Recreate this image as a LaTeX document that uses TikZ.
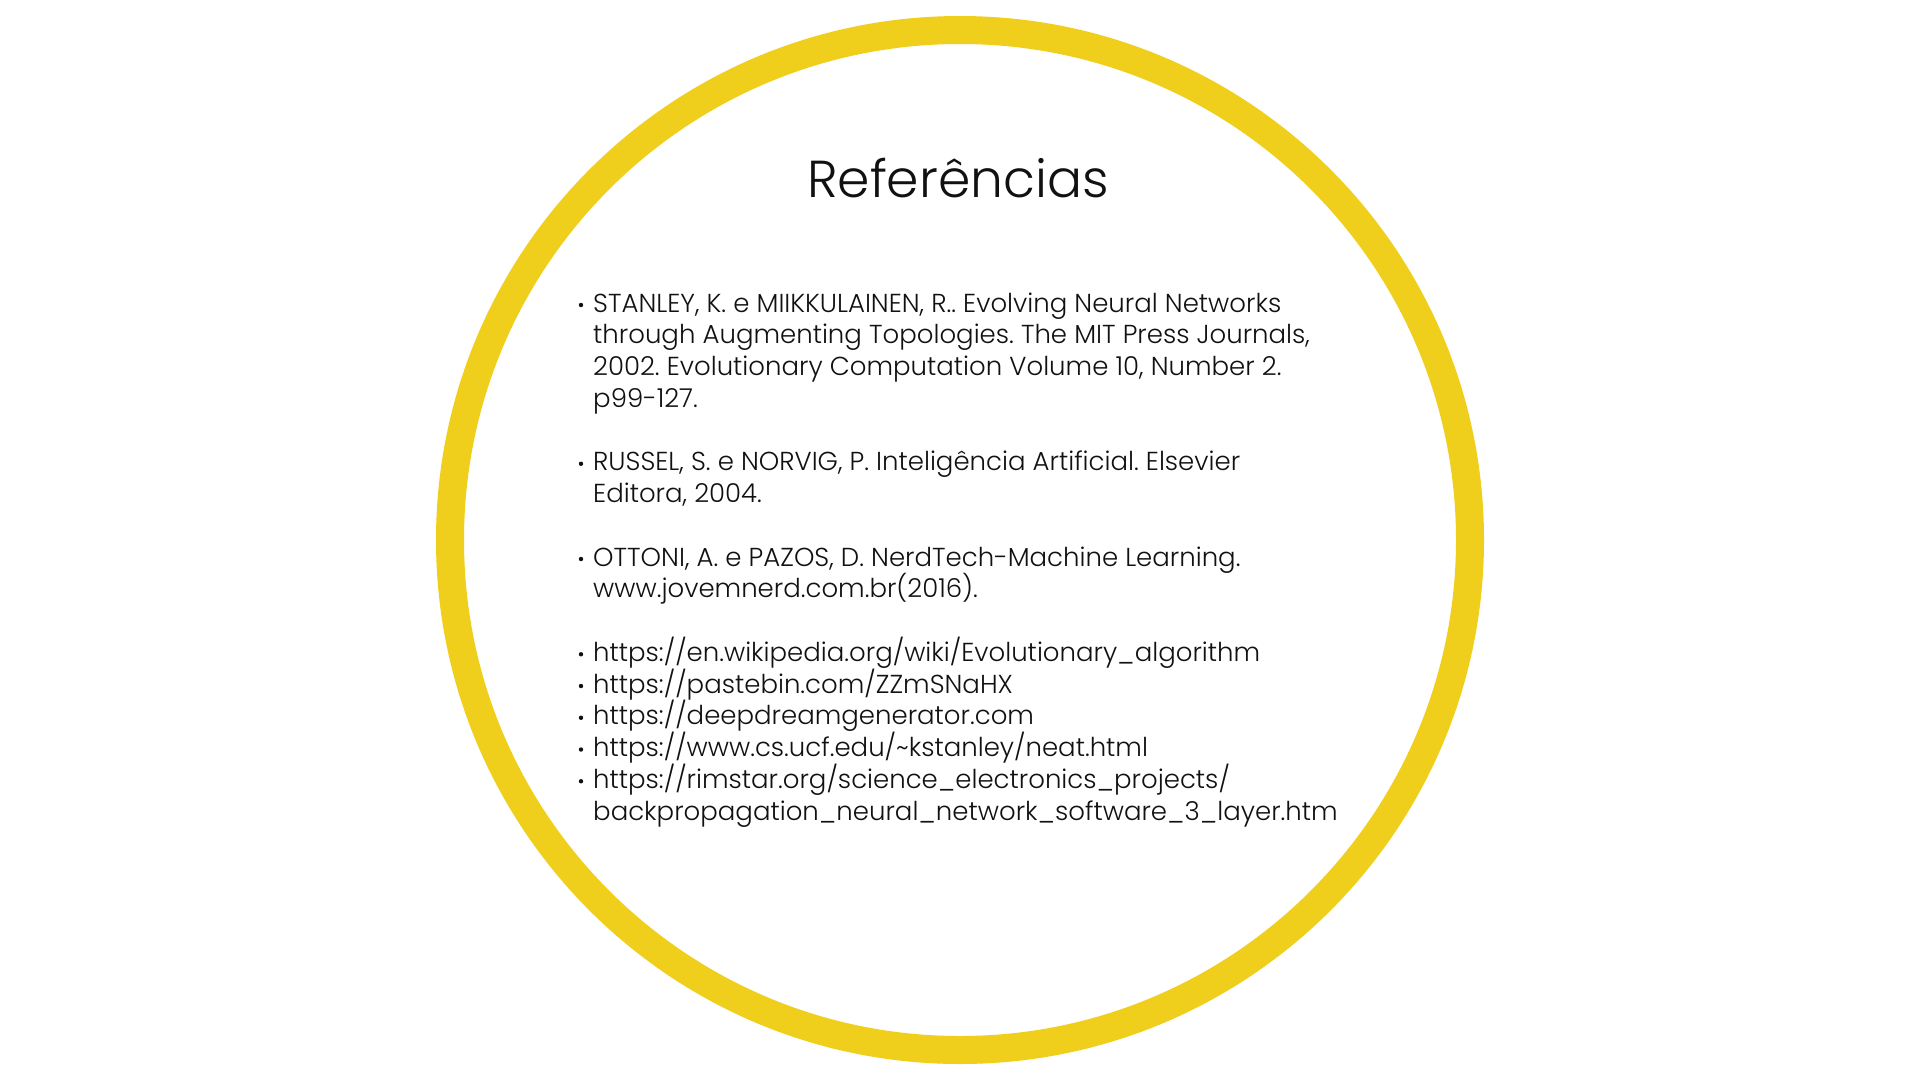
\documentclass[tikz,border=0pt]{standalone}
\usepackage{fontspec}
\setmainfont{Poppins}[UprightFont=* Light]
\definecolor{ringyellow}{HTML}{F0CF1C}
\definecolor{txt}{HTML}{111111}
\frenchspacing
\begin{document}
\begin{tikzpicture}[x=1pt,y=-1pt,
  ring/.style={draw=ringyellow,line width=28pt},
  titletext/.style={font=\fontsize{52}{62}\selectfont,text=txt,inner sep=0pt,anchor=base},
  reftext/.style={font=\fontsize{26}{31}\selectfont,text=txt,inner sep=0pt,anchor=base west},
  bul/.style={circle,fill=txt,inner sep=0pt,minimum size=4.4pt}]
\useasboundingbox (0,0) rectangle (1920,1080);
\fill[white] (0,0) rectangle (1920,1080);
\draw[ring] (960,540) circle[radius=510pt];
\node[titletext] (title) at (958,197) {Referências};
% item 1
\node[bul] (b1) at (581,305) {};
\node[reftext] (l1) at (593,312) {STANLEY, K. e MIIKKULAINEN, R.. Evolving Neural Networks};
\node[reftext] (l2) at (593,343.75) {through Augmenting Topologies. The MIT Press Journals,};
\node[reftext] (l3) at (593,375.5) {2002. Evolutionary Computation Volume 10, Number 2.};
\node[reftext] (l4) at (593,407.25) {p99-127.};
% item 2
\node[bul] (b2) at (581,463.75) {};
\node[reftext] (l5) at (593,470.75) {RUSSEL, S. e NORVIG, P. Inteligência Artificial. Elsevier};
\node[reftext] (l6) at (593,502.5) {Editora, 2004.};
% item 3
\node[bul] (b3) at (581,559) {};
\node[reftext] (l7) at (593,566) {OTTONI, A. e PAZOS, D. NerdTech-Machine Learning.};
\node[reftext] (l8) at (593,597.75) {www.jovemnerd.com.br(2016).};
% links
\node[bul] (b4) at (581,654.25) {};
\node[reftext] (l9) at (593,661.25) {https://en.wikipedia.org/wiki/Evolutionary\_algorithm};
\node[bul] (b5) at (581,686) {};
\node[reftext] (l10) at (593,693) {https://pastebin.com/ZZmSNaHX};
\node[bul] (b6) at (581,717.75) {};
\node[reftext] (l11) at (593,724.75) {https://deepdreamgenerator.com};
\node[bul] (b7) at (581,749.5) {};
\node[reftext] (l12) at (593,756.5) {https://www.cs.ucf.edu/\textasciitilde kstanley/neat.html};
\node[bul] (b8) at (581,781.25) {};
\node[reftext] (l13) at (593,788.25) {https://rimstar.org/science\_electronics\_projects/};
\node[reftext] (l14) at (593,820) {backpropagation\_neural\_network\_software\_3\_layer.htm};
\end{tikzpicture}
\end{document}
